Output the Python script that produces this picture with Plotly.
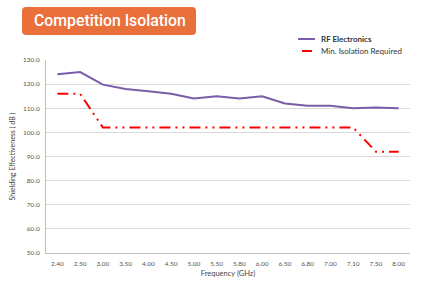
import plotly.graph_objects as go

freqs = ["2.40", "2.50", "3.00", "3.50", "4.00", "4.50", "5.00", "5.50",
         "5.80", "6.00", "6.50", "6.80", "7.00", "7.10", "7.50", "8.00"]
rf_electronics = [124.1, 125.0, 119.8, 118.0, 117.0, 116.0, 114.0, 115.0,
                  114.0, 115.0, 112.0, 111.0, 111.0, 110.0, 110.3, 110.0]
min_required = [116, 116, 102, 102, 102, 102, 102, 102,
                102, 102, 102, 102, 102, 102, 92, 92]
y_ticks = [50, 60, 70, 80, 90, 100, 110, 120, 130]
series_names = ["RF Electronics", "Min. Isolation Required"]
series_colors = ["#7A5CA8", "#FF0000"]

W, H = 423, 282
L, R, T, B = 46, 13, 60, 29
pw, ph = W - L - R, H - T - B

def px(x):
    return (x - L) / pw

def py(y):
    return (H - B - y) / ph

DASH = "11px,5px,2px,5px,2px,5px"

fig = go.Figure()
fig.add_trace(go.Scatter(x=freqs, y=rf_electronics, mode="lines",
                         name=series_names[0], showlegend=False,
                         line=dict(color=series_colors[0], width=2)))
fig.add_trace(go.Scatter(x=freqs, y=min_required, mode="lines",
                         name=series_names[1], showlegend=False,
                         line=dict(color=series_colors[1], width=2, dash=DASH)))

# legend drawn by hand (compact, like the reference)
leg = [(298, 315, 39, "<b>%s</b>" % series_names[0], series_colors[0]),
       (302, 312, 51, series_names[1], series_colors[1])]
for xa, xb, yy, txt, col in leg:
    fig.add_shape(type="line", xref="paper", yref="paper",
                  x0=px(xa), x1=px(xb), y0=py(yy), y1=py(yy),
                  line=dict(color=col, width=2))
    fig.add_annotation(text=txt, xref="paper", yref="paper", x=px(319), y=py(yy),
                       xanchor="left", yanchor="middle", showarrow=False,
                       font=dict(size=8, color="#333333"))

# rounded title badge
x0, x1, y0, y1, r = 22, 196, 7, 35, 4
path = (f"M {px(x0+r)},{py(y0)} L {px(x1-r)},{py(y0)} Q {px(x1)},{py(y0)} {px(x1)},{py(y0+r)} "
        f"L {px(x1)},{py(y1-r)} Q {px(x1)},{py(y1)} {px(x1-r)},{py(y1)} "
        f"L {px(x0+r)},{py(y1)} Q {px(x0)},{py(y1)} {px(x0)},{py(y1-r)} "
        f"L {px(x0)},{py(y0+r)} Q {px(x0)},{py(y0)} {px(x0+r)},{py(y0)} Z")
fig.add_shape(type="path", path=path, xref="paper", yref="paper",
              fillcolor="#E9703B", line=dict(width=0), layer="above")
fig.add_annotation(text="Competition Isolation", xref="paper", yref="paper",
                   x=px((x0 + x1) / 2 + 1), y=py((y0 + y1) / 2), xanchor="center",
                   yanchor="middle", showarrow=False,
                   font=dict(family="Roboto", size=15.8, color="white", weight=500))

fig.update_layout(
    width=W, height=H,
    margin=dict(l=L, r=R, t=T, b=B),
    paper_bgcolor="white", plot_bgcolor="white",
    font=dict(family="Lato, Open Sans, sans-serif", color="#555555", size=7),
    showlegend=False,
    xaxis=dict(type="category", range=[-0.5, len(freqs) - 0.5], automargin=False,
               showgrid=False, showline=True, linecolor="#bfbfbf",
               linewidth=1, ticks="outside", ticklen=4, tickcolor="rgba(0,0,0,0)",
               tickfont=dict(size=6.5, color="#555555"),
               title=dict(text="Frequency (GHz)", font=dict(size=7.5, color="#444444"),
                          standoff=4)),
    yaxis=dict(range=[50, 130], tickvals=y_ticks, tickformat=".1f", automargin=False,
               showgrid=True, gridcolor="#d9d9d9", gridwidth=1,
               showline=True, linecolor="#bfbfbf", linewidth=1, zeroline=False,
               ticks="outside", ticklen=4, tickcolor="rgba(0,0,0,0)",
               tickfont=dict(size=6.5, color="#555555"),
               title=dict(text="Shielding Effectiveness ( dB )",
                          font=dict(size=7, color="#444444"), standoff=6)),
)

fig.write_html("out.html")
